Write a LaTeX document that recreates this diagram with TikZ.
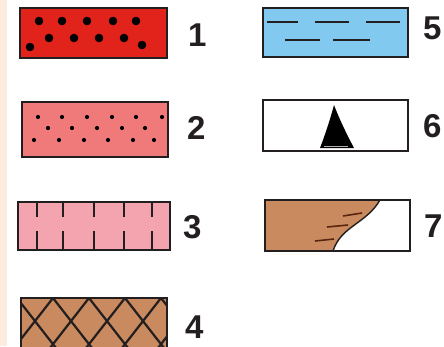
\documentclass[tikz,border=0pt]{standalone}
\usepackage{fontspec}
\setmainfont{Liberation Sans}
\definecolor{peach}{HTML}{FDEBDD}
\definecolor{cred}{HTML}{E2231C}
\definecolor{csalmon}{HTML}{F07A7A}
\definecolor{cpink}{HTML}{F4A4AE}
\definecolor{cbrown}{HTML}{C88A5E}
\definecolor{cblue}{HTML}{82C9EF}
\definecolor{cdark}{HTML}{231F20}
\definecolor{ctick}{HTML}{5A2410}
\tikzset{
  legbox/.style={draw=cdark,line width=2.8pt},
  lab/.style={font=\fontsize{33}{36}\selectfont\bfseries,text=cdark,anchor=west,inner sep=0pt},
  bigdot/.style={fill=black},
  patline/.style={cdark,line width=2.2pt}
}
\begin{document}
\begin{tikzpicture}[x=1pt,y=-1pt]
\useasboundingbox (0,0) rectangle (444,346);
\fill[white] (0,0) rectangle (444,346);
\fill[peach] (0,0) rectangle (7,346);
% box 1
\fill[cred] (20,8) rectangle (167,58);
\foreach \x/\y in {39/21,62/21,87/21,113/21,136/21,49/38,74/38,99/38,124/38,30/47,142/45}
  \fill[bigdot] (\x,\y) circle (4.3);
\draw[legbox] (20,8) rectangle (167,58);
% box 2
\fill[csalmon] (22,102) rectangle (168,157);
\foreach \x in {38,62,87,112,136,162} \fill[bigdot] (\x,117) circle (2.1);
\foreach \x in {48,72,97,122,145} \fill[bigdot] (\x,128) circle (2.1);
\foreach \x in {34,59,84,108,133,154} \fill[bigdot] (\x,140) circle (2.1);
\draw[legbox] (22,102) rectangle (168,157);
% box 3
\fill[cpink] (18,202) rectangle (170,250);
\foreach \x in {37,63,94,124,152} {
  \draw[patline] (\x,202) -- (\x,217);
  \draw[patline] (\x,231) -- (\x,250);
}
\draw[legbox] (18,202) rectangle (170,250);
% box 4
\fill[cbrown] (21,298) rectangle (167,352);
\begin{scope}
\clip (21,298) rectangle (167,352);
\foreach \a in {-55,-19,17,53,89,125,161,197} {
  \draw[patline] (\a,298) -- ({\a+0.78*60},358);
  \draw[patline] (\a,298) -- ({\a-0.78*60},358);
}
\end{scope}
\draw[legbox] (21,298) rectangle (167,352);
% box 5
\fill[cblue] (263,8) rectangle (408,57);
\foreach \a/\b in {267/298,315/349,366/400} \draw[patline,line width=2.6pt] (\a,22) -- (\b,22);
\foreach \a/\b in {285/320,333/370} \draw[patline,line width=2.6pt] (\a,40) -- (\b,40);
\draw[legbox] (263,8) rectangle (408,57);
% box 6
\fill[white] (263,100) rectangle (408,151);
\fill[black] (334,105) .. controls (330,120) and (325,135) .. (320,148) -- (354,148) .. controls (346,133) and (339,118) .. (334,105) -- cycle;
\draw[gray!60,line width=0.8pt] (324,146) -- (348,146);
\draw[legbox] (263,100) rectangle (408,151);
% box 7
\fill[white] (265,200) rectangle (410,251);
\fill[cbrown] (265,200) -- (380,200) .. controls (366,224) and (341,226) .. (333,251) -- (265,251) -- cycle;
\draw[cdark,line width=1.4pt] (380,200) .. controls (366,224) and (341,226) .. (333,251);
\draw[ctick,line width=1.6pt] (343,216) -- (362,213);
\draw[ctick,line width=1.6pt] (327,227) -- (348,225);
\draw[ctick,line width=1.6pt] (315,241) -- (334,239);
\draw[legbox] (265,200) rectangle (410,251);
% labels
\node[lab] (l1) at (188,35) {1};
\node[lab] (l2) at (187,128) {2};
\node[lab] (l3) at (183,227) {3};
\node[lab] (l4) at (185,327) {4};
\node[lab] (l5) at (423,28) {5};
\node[lab] (l6) at (423,126) {6};
\node[lab] (l7) at (424,226) {7};
\end{tikzpicture}
\end{document}
